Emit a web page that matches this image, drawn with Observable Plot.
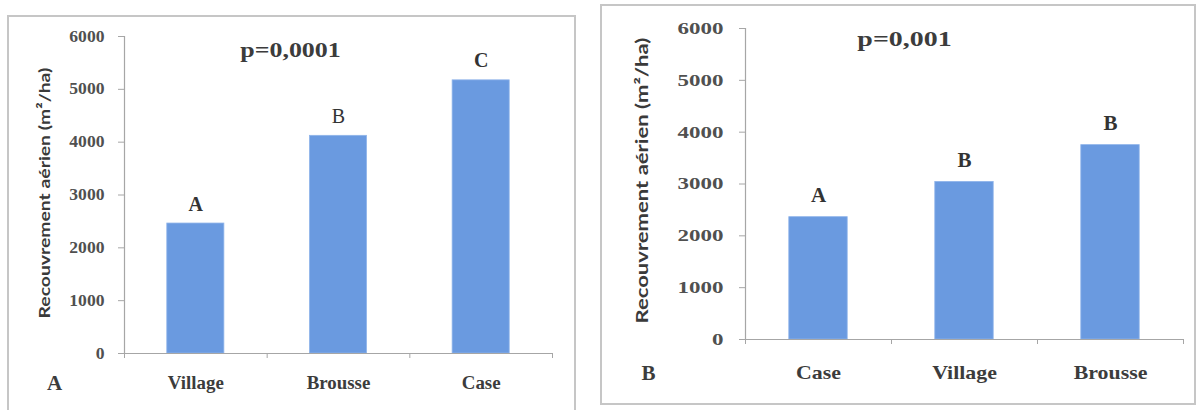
<!DOCTYPE html>
<html>
<head>
<meta charset="utf-8">
<script src="https://cdn.jsdelivr.net/npm/d3@7"></script>
<script src="https://cdn.jsdelivr.net/npm/@observablehq/plot@0.6"></script>
<style>
  body { margin: 0; background: #ffffff; width: 1199px; height: 410px; position: relative; overflow: hidden; }
  .panel { position: absolute; top: 0; }
  .frame { position: absolute; border: 2px solid #c6c6c6; box-sizing: border-box; }
</style>
</head>
<body>
<div class="frame" style="left:7px;top:15px;width:569px;height:402px"></div>
<div class="frame" style="left:600px;top:4px;width:596px;height:401px"></div>
<div id="panelA" class="panel" style="left:0px"></div>
<div id="panelB" class="panel" style="left:600px"></div>
<script>
// ---- data ----
const yTicks = [0, 1000, 2000, 3000, 4000, 5000, 6000];
const yLabel = "Recouvrement aérien (m²/ha)";

const categoriesA = ["Village", "Brousse", "Case"];
const valuesA = [2460, 4120, 5170];
const lettersA = ["A", "B", "C"];
const pValueA = "p=0,0001";
const panelTagA = "A";

const categoriesB = ["Case", "Village", "Brousse"];
const valuesB = [2360, 3040, 3750];
const lettersB = ["A", "B", "B"];
const pValueB = "p=0,001";
const panelTagB = "B";

// ---- drawing ----
const BAR = "#6a9ae0";
const AXIS = "#a6a6a6";
const TEXT = "#3c3c3c";

function stretch(svg, selector, k) {
  svg.querySelectorAll(selector).forEach(t => {
    const w = t.getComputedTextLength();
    t.setAttribute("textLength", w * k);
    t.setAttribute("lengthAdjust", "spacingAndGlyphs");
  });
}
function scaleAlong(svg, selector, len) {
  svg.querySelectorAll(selector).forEach(t => {
    const w = t.getComputedTextLength();
    const tr = t.getAttribute("transform") || "";
    t.setAttribute("transform", tr + ` scale(${len / w},1)`);
  });
}

function panel(cfg) {
  const data = cfg.categories.map((c, i) => ({i, category: c, value: cfg.values[i], letter: cfg.letters[i]}));
  const n = data.length;
  const svg = Plot.plot({
    width: cfg.width, height: 410,
    marginLeft: cfg.ml, marginRight: cfg.mr, marginTop: cfg.mt, marginBottom: cfg.mb,
    style: {fontFamily: "'Liberation Serif', 'Times New Roman', serif", background: "transparent", color: TEXT},
    x: {type: "linear", domain: [0, n], axis: null},
    y: {domain: [0, 6000], axis: null},
    marks: [
      Plot.rectY(data, {x1: d => d.i + 0.3, x2: d => d.i + 0.7, y: "value", fill: BAR, stroke: "#8fb4ea", strokeWidth: 0.8}),
      Plot.ruleX([0], {y1: 0, y2: 6000, stroke: AXIS, strokeWidth: 1.2}),
      Plot.ruleY([0], {stroke: AXIS, strokeWidth: 1.2}),
      Plot.axisY(yTicks, {tickSize: 6, tickPadding: cfg.tickPad, stroke: AXIS, tickFormat: d => String(d), label: null,
        fontSize: cfg.tickFont, fontWeight: "bold", fill: "#505050"}),
      Plot.axisX(d3.range(n + 1), {tickSize: 5, stroke: AXIS, tickFormat: () => "", label: null}),
      Plot.text(data, {x: d => d.i + 0.5, text: "category", frameAnchor: "bottom", lineAnchor: "middle", dy: cfg.catDy,
        fontSize: cfg.catFont, fontWeight: "bold", fill: TEXT, ariaDescription: "category"}),
      Plot.text(data.filter(d => !cfg.lightLetters.includes(d.i)), {x: d => d.i + 0.5, y: "value", text: "letter",
        lineAnchor: "bottom", dy: cfg.letterDy, fontSize: cfg.letterFont, fontWeight: "bold", fill: "#333"}),
      Plot.text(data.filter(d => cfg.lightLetters.includes(d.i)), {x: d => d.i + 0.5, y: "value", text: "letter",
        lineAnchor: "bottom", dy: cfg.letterDy, fontSize: cfg.letterFont, fontWeight: "normal", fill: "#333"}),
      Plot.text([cfg.p], {frameAnchor: "top", lineAnchor: "middle", dx: cfg.pDx, dy: cfg.pDy, fontSize: cfg.pFont,
        fontWeight: "bold", fill: TEXT, ariaDescription: "pvalue"}),
      Plot.text([cfg.tag], {frameAnchor: "bottom-left", textAnchor: "middle", lineAnchor: "middle",
        dx: cfg.tagDx, dy: cfg.tagDy, fontSize: 21, fontWeight: "bold", fill: TEXT}),
      Plot.text([yLabel], {frameAnchor: "left", rotate: -90, textAnchor: "start", lineAnchor: "middle",
        dx: cfg.labDx, dy: cfg.labDy, fontSize: cfg.labFont,
        fontWeight: "bold", fontFamily: "Lato, 'Open Sans', sans-serif", fill: "#3a3a3a", ariaDescription: "ylabel"})
    ]
  });
  document.getElementById(cfg.id).appendChild(svg);
  stretch(svg, 'g[aria-label="y-axis tick label"] text', cfg.tickStretch);
  stretch(svg, 'g[aria-description="category"] text', cfg.catStretch);
  stretch(svg, 'g[aria-description="pvalue"] text', cfg.pStretch);
  scaleAlong(svg, 'g[aria-description="ylabel"] text', cfg.labLen);
}

panel({
  id: "panelA", width: 600, ml: 124, mr: 48, mt: 36, mb: 57,
  categories: categoriesA, values: valuesA, letters: lettersA, lightLetters: [1],
  p: pValueA, tag: panelTagA,
  tickFont: 16, tickPad: 14, tickStretch: 1.1,
  catFont: 18, catDy: 30, catStretch: 1.05,
  letterFont: 20, letterDy: -13,
  pFont: 22, pDx: -48, pDy: 13, pStretch: 1.18,
  tagDx: -70, tagDy: 30,
  labFont: 16, labDx: -80, labDy: 123.5, labLen: 251
});

panel({
  id: "panelB", width: 599, ml: 145, mr: 16, mt: 28, mb: 71,
  categories: categoriesB, values: valuesB, letters: lettersB, lightLetters: [],
  p: pValueB, tag: panelTagB,
  tickFont: 17, tickPad: 16, tickStretch: 1.35,
  catFont: 19, catDy: 33, catStretch: 1.15,
  letterFont: 21, letterDy: -15,
  pFont: 22, pDx: -60, pDy: 10, pStretch: 1.27,
  tagDx: -97, tagDy: 34,
  labFont: 16.5, labDx: -103, labDy: 139.5, labLen: 286
});
</script>
</body>
</html>
